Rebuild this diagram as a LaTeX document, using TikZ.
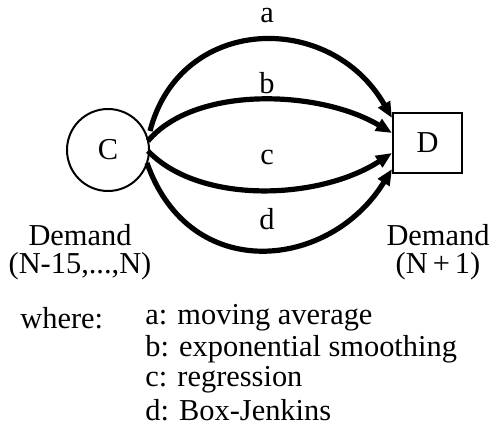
\documentclass[tikz,border=0pt]{standalone}
\usepackage{fontspec}
\setmainfont{Liberation Serif}
\usetikzlibrary{arrows.meta,calc}
\begin{document}
\begin{tikzpicture}[x=0.5pt,y=-0.5pt,
  every node/.style={font=\fontsize{15.2}{14}\selectfont},
  flow/.style={line width=2.6pt,-{Triangle[length=8pt,width=6.5pt]}},
  lbl/.style={inner sep=0pt}]
\useasboundingbox (0,0) rectangle (495,439);
\node[draw,circle,line width=1pt,minimum size=41pt] (C) at (108,150) {C};
\node[draw,line width=1pt,minimum width=34.5pt,minimum height=30pt] (D) at (427.5,143) {D};
\coordinate (ca) at ($(C.center)+(42,-19)$);
\coordinate (cb) at ($(C.center)+(40,-9)$);
\coordinate (cc) at ($(C.center)+(40,1)$);
\coordinate (cd) at ($(C.center)+(39,13)$);
\coordinate (da) at ($(D.west)+(0,-25)$);
\coordinate (db) at ($(D.west)+(0,-10)$);
\coordinate (dc) at ($(D.west)+(0,10)$);
\coordinate (dd) at ($(D.west)+(0,26)$);
\draw[flow] (ca) .. controls (180,15) and (330,10) .. (da);
\draw[flow] (cb) .. controls (195,85) and (320,90) .. (db);
\draw[flow] (cc) .. controls (200,205) and (320,200) .. (dc);
\draw[flow] (cd) .. controls (190,285) and (330,270) .. (dd);
\node[lbl] (la) at (267,16) {a};
\node[lbl] (lb) at (267,83) {b};
\node[lbl] (lc) at (267,157) {c};
\node[lbl] (ld) at (267,219) {d};
\node[lbl,align=center] (dl) at (80,252) {Demand\\(N-15,...,N)};
\node[lbl,align=center] (dr) at (438,252) {Demand\\(N\,+\,1)};
\node[lbl,anchor=west] (wh) at (20,318) {where:};
\node[lbl,anchor=west] (ia) at (145,318) {a: moving average};
\node[lbl,anchor=west] (ib) at (145,349) {b: exponential smoothing};
\node[lbl,anchor=west] (ic) at (145,380) {c: regression};
\node[lbl,anchor=west] (id) at (145,410) {d: Box-Jenkins};
\end{tikzpicture}
\end{document}
